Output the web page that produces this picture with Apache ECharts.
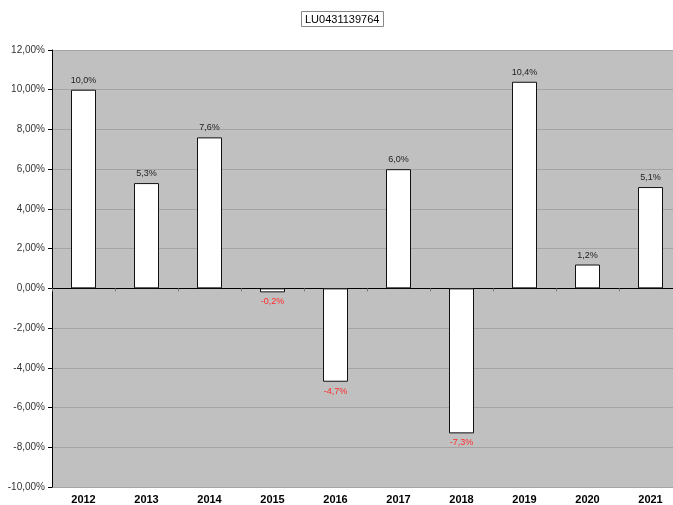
<!DOCTYPE html>
<html><head><meta charset="utf-8">
<script src="https://cdn.jsdelivr.net/npm/echarts@6/dist/echarts.min.js"></script>
<style>html,body{margin:0;padding:0;background:#fff}#c{width:673px;height:505px}</style>
</head><body><div id="c"></div>
<script>
var title = 'LU0431139764';
var categories = ['2012','2013','2014','2015','2016','2017','2018','2019','2020','2021'];
var values = [10.0, 5.3, 7.6, -0.2, -4.7, 6.0, -7.3, 10.4, 1.2, 5.1];
var yTicks = {min: -10, max: 12, interval: 2};

var fmt = function(v, d){ return v.toFixed(d).replace('.', ',') + '%'; };
var font = 'Liberation Sans, Arial, Helvetica, sans-serif';
var chart = echarts.init(document.getElementById('c'));
chart.setOption({
  animation: false,
  backgroundColor: '#fff',
  title: {
    text: title, left: 301, top: 11,
    padding: [3, 4, 2, 4],
    borderColor: '#888', borderWidth: 1,
    textStyle: {fontFamily: font, fontSize: 11, fontWeight: 'normal', color: '#000'}
  },
  grid: {left: 52, top: 50, width: 630, height: 437, backgroundColor: '#c0c0c0', show: true, borderWidth: 0,
         containLabel: false, outerBoundsMode: 'none'},
  xAxis: [{
    type: 'category', data: categories,
    axisLine: {onZero: true, lineStyle: {color: '#000', width: 1}},
    axisTick: {show: true, length: 3, lineStyle: {color: '#777'}},
    axisLabel: {show: false},
    splitLine: {show: false}
  }, {
    type: 'category', data: categories, position: 'bottom',
    axisLine: {show: false, onZero: false},
    axisTick: {show: false},
    axisLabel: {fontFamily: font, fontSize: 11, fontWeight: 'bold', color: '#000', margin: 7}
  }],
  yAxis: {
    type: 'value', min: yTicks.min, max: yTicks.max, interval: yTicks.interval,
    axisLine: {show: true, lineStyle: {color: '#000', width: 1}},
    axisTick: {show: true, length: 4, lineStyle: {color: '#000'}},
    axisLabel: {fontFamily: font, fontSize: 10, color: '#333', margin: 7, formatter: function(v){ return fmt(v, 2); }},
    splitLine: {show: true, lineStyle: {color: '#a4a4a4', width: 1}}
  },
  series: [{
    type: 'bar', xAxisIndex: 0,
    data: values.map(function(v){
      return {value: v, label: {position: v >= 0 ? 'top' : 'bottom', color: v >= 0 ? '#222' : '#ff2a2a'}};
    }),
    barWidth: 25,
    itemStyle: {color: '#fff', borderColor: '#111', borderWidth: 1},
    label: {show: true, fontFamily: font, fontSize: 9, distance: 5, formatter: function(p){ return fmt(p.value, 1); }}
  }]
});
</script></body></html>
